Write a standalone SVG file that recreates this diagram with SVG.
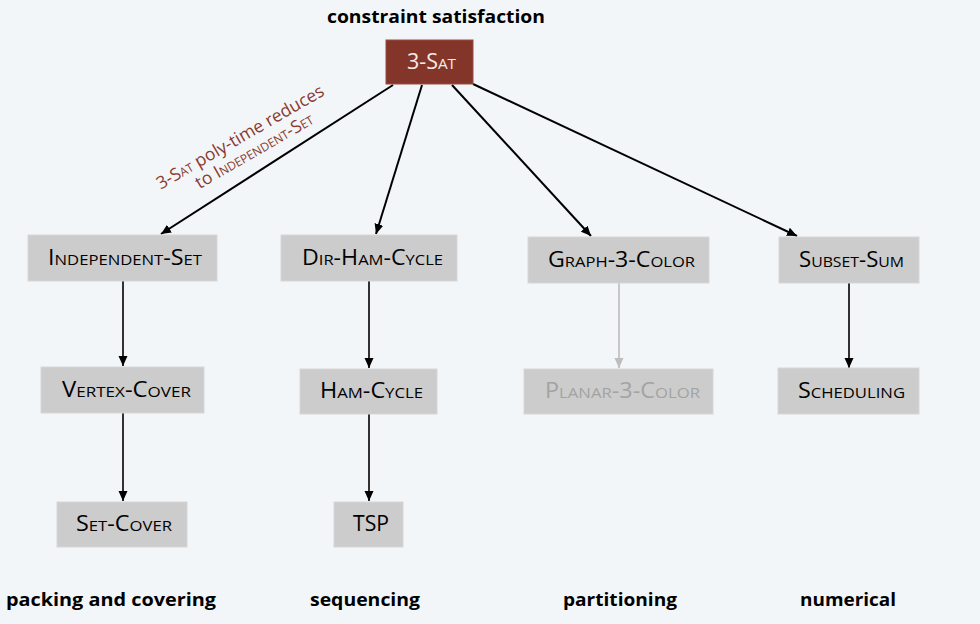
<svg xmlns="http://www.w3.org/2000/svg" width="980" height="624" viewBox="0 0 980 624">
<defs>
<marker id="ah" viewBox="0 0 10 10" refX="10" refY="5" markerWidth="10" markerHeight="10" markerUnits="userSpaceOnUse" orient="auto">
<path d="M0,0.5 L10,5 L0,9.5 z" fill="#000"/>
</marker>
<marker id="ahg" viewBox="0 0 10 10" refX="10" refY="5" markerWidth="10" markerHeight="10" markerUnits="userSpaceOnUse" orient="auto">
<path d="M0,0.5 L10,5 L0,9.5 z" fill="#bdbdbd"/>
</marker>
</defs>
<style>
.box{fill:#cccccc;stroke:#d6d6d6;stroke-width:1}
.nt{font-family:"Open Sans","Liberation Sans",sans-serif;font-size:21px;font-variant:small-caps;fill:#000;text-anchor:middle}
.cat{font-family:"Open Sans","Liberation Sans",sans-serif;font-size:18px;font-weight:bold;fill:#000}
.e{stroke:#000;stroke-width:2;fill:none;marker-end:url(#ah)}
.v{stroke:#000;stroke-width:1.6;fill:none;marker-end:url(#ah)}
</style>
<rect width="980" height="624" fill="#f2f6f9"/>

<text class="cat" x="327" y="23" textLength="218" lengthAdjust="spacingAndGlyphs">constraint satisfaction</text>
<text class="cat" x="6" y="606" textLength="210" lengthAdjust="spacingAndGlyphs">packing and covering</text>
<text class="cat" x="310" y="606" textLength="110" lengthAdjust="spacingAndGlyphs">sequencing</text>
<text class="cat" x="563" y="606" textLength="114" lengthAdjust="spacingAndGlyphs">partitioning</text>
<text class="cat" x="800" y="606" textLength="96" lengthAdjust="spacingAndGlyphs">numerical</text>

<g id="connectors">
<line class="e" x1="393" y1="85" x2="161" y2="234"/>
<line class="e" x1="422" y1="85" x2="376" y2="234"/>
<line class="e" x1="452" y1="85" x2="591" y2="236"/>
<line class="e" x1="473" y1="84" x2="797" y2="236"/>
<line class="v" x1="123" y1="281" x2="123" y2="366"/>
<line class="v" x1="123" y1="413" x2="123" y2="501"/>
<line class="v" x1="369" y1="281" x2="369" y2="368"/>
<line class="v" x1="369" y1="414" x2="369" y2="501"/>
<line stroke="#bdbdbd" stroke-width="1.6" marker-end="url(#ahg)" x1="619" y1="283" x2="619" y2="368"/>
<line class="v" x1="849" y1="283" x2="849" y2="368"/>
</g>

<text font-family="'Open Sans','Liberation Sans',sans-serif" font-size="17.5" fill="#8b3a2e" text-anchor="middle" transform="rotate(-30 245 141)">
<tspan x="245" y="141">3-<tspan font-variant="small-caps">Sat</tspan> poly-time reduces</tspan>
<tspan x="248" y="160">to <tspan font-variant="small-caps">Independent-Set</tspan></tspan>
</text>

<g id="sat">
<rect x="386" y="40" width="87" height="44" fill="#843529" stroke="#9a4a3e" stroke-width="1"/>
<text class="nt" x="431.5" y="69" style="fill:#f6ebe8" textLength="49" lengthAdjust="spacingAndGlyphs">3-Sat</text>
</g>
<g id="independent-set">
<rect class="box" x="28" y="235" width="189" height="46"/>
<text class="nt" x="125" y="265" textLength="154" lengthAdjust="spacingAndGlyphs">Independent-Set</text>
</g>
<g id="dir-ham-cycle">
<rect class="box" x="281" y="235" width="176" height="46"/>
<text class="nt" x="372.5" y="265" textLength="141" lengthAdjust="spacingAndGlyphs">Dir-Ham-Cycle</text>
</g>
<g id="graph-3-color">
<rect class="box" x="528" y="237" width="181" height="46"/>
<text class="nt" x="621.5" y="267" textLength="147" lengthAdjust="spacingAndGlyphs">Graph-3-Color</text>
</g>
<g id="subset-sum">
<rect class="box" x="779" y="237" width="140" height="46"/>
<text class="nt" x="851.5" y="267" textLength="105" lengthAdjust="spacingAndGlyphs">Subset-Sum</text>
</g>
<g id="vertex-cover">
<rect class="box" x="41" y="367" width="163" height="46"/>
<text class="nt" x="126.5" y="397" textLength="129" lengthAdjust="spacingAndGlyphs">Vertex-Cover</text>
</g>
<g id="ham-cycle">
<rect class="box" x="300" y="369" width="137" height="45"/>
<text class="nt" x="371.5" y="398" textLength="103" lengthAdjust="spacingAndGlyphs">Ham-Cycle</text>
</g>
<g id="planar-3-color">
<rect class="box" x="524" y="369" width="189" height="45"/>
<text class="nt" x="622.5" y="398" style="fill:#a3a3a3" textLength="155" lengthAdjust="spacingAndGlyphs">Planar-3-Color</text>
</g>
<g id="scheduling">
<rect class="box" x="778" y="368" width="141" height="46"/>
<text class="nt" x="851.5" y="398" textLength="107" lengthAdjust="spacingAndGlyphs">Scheduling</text>
</g>
<g id="set-cover">
<rect class="box" x="57" y="502" width="130" height="45"/>
<text class="nt" x="124" y="531" textLength="96" lengthAdjust="spacingAndGlyphs">Set-Cover</text>
</g>
<g id="tsp">
<rect class="box" x="334" y="502" width="69" height="45"/>
<text class="nt" x="371" y="531" textLength="36" lengthAdjust="spacingAndGlyphs">TSP</text>
</g>
</svg>
